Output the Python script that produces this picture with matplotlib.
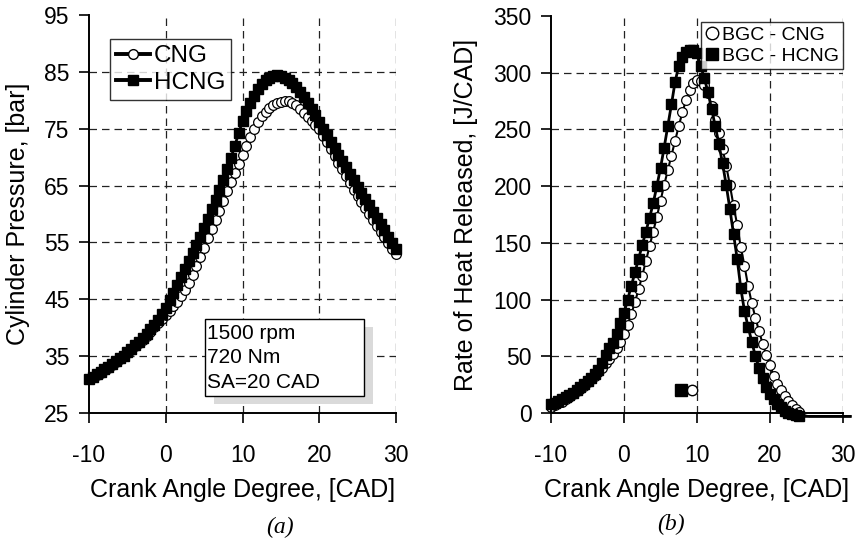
import numpy as np
import matplotlib
matplotlib.use("Agg")
import matplotlib.pyplot as plt
from matplotlib.patches import Rectangle
from matplotlib.lines import Line2D

plt.rcParams['font.family'] = ['Liberation Sans', 'DejaVu Sans']
plt.rcParams['axes.unicode_minus'] = False

# ---------------- data ----------------
# Panel (a): cylinder pressure vs crank angle (0.5 CAD step, -10 .. 30)
cad_p = np.arange(-10, 30.01, 0.5)
p_cng = [30.9, 31.3, 31.7, 32.1, 32.6, 33.0, 33.5, 34.0, 34.5, 35.0,
         35.5, 36.1, 36.7, 37.3, 37.9, 38.6, 39.3, 40.1, 40.9, 41.6,
         42.3, 43.0, 43.8, 44.6, 45.5, 46.6, 47.9, 49.3, 50.9, 52.5,
         54.1, 55.7, 57.3, 58.9, 60.6, 62.3, 64.0, 65.6, 67.2, 68.8,
         70.4, 72.0, 73.6, 75.0, 76.2, 77.2, 78.0, 78.7, 79.2, 79.5,
         79.7, 79.8, 79.8, 79.5, 79.1, 78.5, 77.8, 77.1, 76.4, 75.7,
         74.9, 73.8, 72.6, 71.4, 70.2, 69.0, 67.9, 66.7, 65.5, 64.3,
         63.2, 62.1, 61.0, 60.0, 58.9, 57.9, 56.9, 55.9, 54.9, 53.9,
         52.9]
p_hcng = [31.0, 31.4, 31.8, 32.2, 32.7, 33.1, 33.6, 34.1, 34.6, 35.1,
          35.7, 36.3, 36.9, 37.5, 38.2, 38.9, 39.7, 40.5, 41.4, 42.4,
          43.5, 44.8, 46.1, 47.5, 48.9, 50.3, 51.8, 53.2, 54.6, 56.0,
          57.5, 59.1, 60.8, 62.5, 64.2, 66.0, 67.9, 69.9, 72.0, 74.2,
          76.3, 78.1, 79.6, 80.8, 81.9, 82.8, 83.5, 84.0, 84.3, 84.4,
          84.3, 84.0, 83.6, 83.0, 82.3, 81.5, 80.6, 79.6, 78.5, 77.4,
          76.2, 75.0, 73.9, 72.7, 71.6, 70.4, 69.3, 68.2, 67.0, 65.9,
          64.8, 63.7, 62.6, 61.5, 60.4, 59.3, 58.2, 57.1, 56.0, 54.9,
          53.8]

# Panel (b): rate of heat released (0.5 CAD step, -10 .. 31)
cad_h = np.arange(-10, 31.01, 0.5)
hrr_cng = [5.5, 7, 8.5, 10, 12, 14, 16.5, 19, 21.5, 24,
           27, 30, 33, 36.5, 40, 44, 48, 52, 57, 63,
           70, 78, 87, 98, 109, 121, 134, 147, 160, 173,
           187, 201, 214, 227, 240, 253, 265, 276, 285, 291,
           294, 293, 289, 282, 271, 258, 247, 233, 218, 201,
           183, 166, 146, 130, 112, 97, 84, 72, 61, 51,
           42, 33, 26, 20, 15, 11, 7, 3.5, 0.5, -1.5,
           -2.5, -3, -3, -3, -3, -3, -3, -3, -3, -3,
           -3, -3, -3]
hrr_hcng = [7.5, 9, 10.5, 12, 14, 16, 18, 20.5, 23, 25.5,
            28, 31, 34, 38, 44, 51, 57, 62, 70, 79,
            88, 100, 112, 124, 136, 148, 160, 172, 185, 200,
            216, 234, 253, 272, 292, 306, 314, 318, 320, 320,
            317, 306, 295, 283, 268, 253, 237, 220, 201, 180,
            158, 136, 110, 90, 76, 63, 50, 40, 31, 23,
            17, 12, 8, 5, 2, 0, -1, -2, -2.5, -3,
            -3, -3, -3, -3, -3, -3, -3, -3, -3, -3,
            -3, -3, -3]
n_marked = 69  # markers shown up to 24 CAD

# stray marker pair in panel (b)
stray_sq_x, stray_sq_y = [7.8], [20]
stray_ci_x, stray_ci_y = [9.3], [20]

xticks = [-10, 0, 10, 20, 30]
yticks_a = [25, 35, 45, 55, 65, 75, 85, 95]
yticks_b = [0, 50, 100, 150, 200, 250, 300, 350]
info_lines = ["1500 rpm", "720 Nm", "SA=20 CAD"]

# ---------------- figure ----------------
fig = plt.figure(figsize=(8.59, 5.42), dpi=100)
W, H = 859, 542
axA = fig.add_axes([89 / W, 1 - 413 / H, 307 / W, 398 / H])
axB = fig.add_axes([551 / W, 1 - 413 / H, 292 / W, 397 / H])

tick_fs = 16.5
label_fs = 18


def style(ax, yt, ylim, ylab, ylab_x):
    ax.set_xlim(-10, 30)
    ax.set_ylim(*ylim)
    ax.set_xticks(xticks)
    ax.set_yticks(yt)
    ax.tick_params(direction='out', length=7, width=1.2, labelsize=tick_fs,
                   colors='black')
    ax.tick_params(axis='x', pad=15)
    ax.tick_params(axis='y', pad=7)
    for s in ['top', 'right']:
        ax.spines[s].set_visible(False)
    for s in ['left', 'bottom']:
        ax.spines[s].set_linewidth(1.4)
        ax.spines[s].set_zorder(5)
    ax.grid(True, linestyle=(0, (6, 4)), color='#222222', linewidth=0.9)
    ax.set_axisbelow(True)
    ax.yaxis.get_gridlines()[-1].set_visible(False)
    ax.yaxis.get_gridlines()[0].set_visible(False)
    ax.xaxis.get_gridlines()[0].set_visible(False)
    ax.set_xlabel("Crank Angle Degree, [CAD]", fontsize=label_fs, va='center')
    ax.xaxis.set_label_coords(0.5, (413 - 490) / (413 - 15))
    ax.set_ylabel(ylab, fontsize=label_fs, va='center')
    ax.yaxis.set_label_coords(ylab_x, 0.5)


style(axA, yticks_a, (25, 95), "Cylinder Pressure, [bar]", (18 - 89) / 307)
style(axB, yticks_b, (0, 350), "Rate of Heat Released, [J/CAD]", (466 - 551) / 292)

ms = 7
# Panel (a): circles below, squares drawn on top
axA.plot(cad_p, p_cng, color='black', lw=1.5, marker='o', ms=ms,
         mfc='white', mec='black', mew=0.9, clip_on=False, zorder=3)
axA.plot(cad_p, p_hcng, color='black', lw=2, marker='s', ms=ms - 0.5,
         mfc='black', mec='black', clip_on=False, zorder=4)

# legend (a)
hA = [Line2D([], [], color='black', lw=2.8, marker='o', ms=7, mfc='white', mec='black'),
      Line2D([], [], color='black', lw=2.8, marker='s', ms=7, mfc='black', mec='black')]
legA = axA.legend(hA, ["CNG", "HCNG"], loc='upper left',
                  bbox_to_anchor=((110 - 89) / 307, (413 - 39) / 398),
                  frameon=True, fancybox=False, fontsize=17.5, handlelength=1.4,
                  handletextpad=0.15, borderpad=0.25, labelspacing=0.2, borderaxespad=0)
legA.get_frame().set_edgecolor('black')
legA.get_frame().set_linewidth(1.0)
legA.set_zorder(10)

# info box with shadow
x0, x1 = -10 + (205 - 89) / 7.675, -10 + (364 - 89) / 7.675
y0, y1 = 25 + (413 - 396) / 5.686, 25 + (413 - 319) / 5.686
dx, dy = 9 / 7.675, 8 / 5.686
axA.add_patch(Rectangle((x0 + dx, y0 - dy), x1 - x0, y1 - y0, facecolor='#dadada',
                        edgecolor='none', zorder=6))
axA.add_patch(Rectangle((x0, y0), x1 - x0, y1 - y0, facecolor='white',
                        edgecolor='black', linewidth=1.0, zorder=7))
for i, t in enumerate(info_lines):
    axA.text(x0 + 0.25, y1 - (14 + 24.5 * i) / 5.686, t, fontsize=15,
             va='center', ha='left', zorder=8)

# Panel (b)
axB.plot(cad_h, hrr_cng, color='black', lw=1.5, marker='o', ms=ms,
         mfc='white', mec='black', mew=0.9, markevery=slice(0, n_marked), clip_on=False, zorder=3)
axB.plot(cad_h, hrr_hcng, color='black', lw=2, marker='s', ms=ms - 0.5,
         mfc='black', mec='black', markevery=slice(0, n_marked), clip_on=False, zorder=4)
axB.plot(stray_ci_x, stray_ci_y, ls='none', marker='o', ms=7.5, mfc='white', mec='black', zorder=4)
axB.plot(stray_sq_x, stray_sq_y, ls='none', marker='s', ms=8, mfc='black', mec='black', zorder=5)

hB = [Line2D([], [], ls='none', marker='o', ms=9, mfc='white', mec='black'),
      Line2D([], [], ls='none', marker='s', ms=9, mfc='black', mec='black')]
legB = axB.legend(hB, ["BGC - CNG", "BGC - HCNG"], loc='upper right',
                  bbox_to_anchor=(1.0, 1 - 6 / 397), frameon=True, fancybox=False,
                  fontsize=14, handlelength=0.8, handletextpad=0.1, borderpad=0.2,
                  labelspacing=0.2, borderaxespad=0)
legB.get_frame().set_edgecolor('black')
legB.get_frame().set_linewidth(1.0)
legB.set_zorder(10)

# sub captions
fig.text(280 / W, 1 - 527 / H, "(a)", fontsize=17, style='italic',
         family=['Liberation Serif'], ha='center', va='center')
fig.text(671 / W, 1 - 524 / H, "(b)", fontsize=17, style='italic',
         family=['Liberation Serif'], ha='center', va='center')

fig.savefig("out.png", dpi=100)
